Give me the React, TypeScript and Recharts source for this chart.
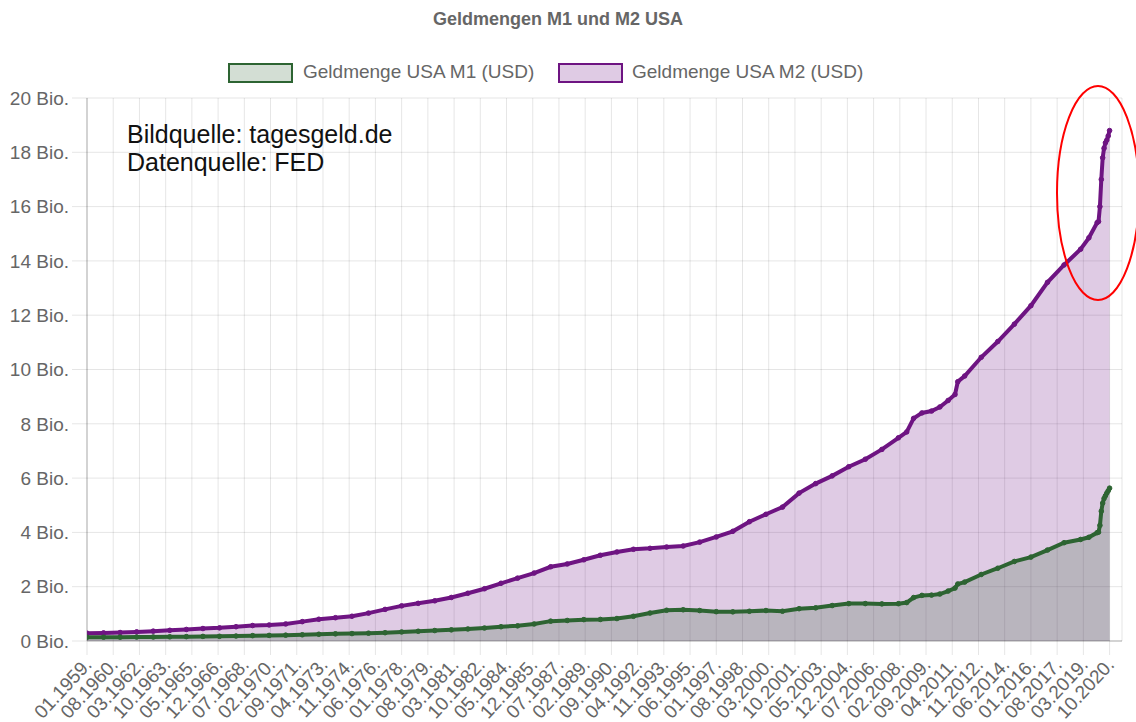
import React from 'react';
import { ComposedChart, Area, XAxis, YAxis, CartesianGrid, Legend } from 'recharts';

// Monthly sample points (YYYY-MM)
const DATES = [
  '1959-01', '1960-01', '1961-01', '1962-01', '1963-01', '1964-01', '1965-01', '1966-01', '1967-01', '1968-01',
  '1969-01', '1970-01', '1971-01', '1972-01', '1973-01', '1974-01', '1975-01', '1976-01', '1977-01', '1978-01',
  '1979-01', '1980-01', '1981-01', '1982-01', '1983-01', '1984-01', '1985-01', '1986-01', '1987-01', '1988-01',
  '1989-01', '1990-01', '1991-01', '1992-01', '1993-01', '1994-01', '1995-01', '1996-01', '1997-01', '1998-01',
  '1999-01', '2000-01', '2001-01', '2002-01', '2003-01', '2004-01', '2005-01', '2006-01', '2007-01', '2008-01',
  '2008-07', '2008-12', '2009-06', '2010-01', '2010-07', '2011-01', '2011-06', '2011-08', '2012-01', '2013-01',
  '2014-01', '2015-01', '2016-01', '2017-01', '2018-01', '2019-01', '2019-07', '2020-01', '2020-02', '2020-03',
  '2020-04', '2020-05', '2020-06', '2020-07', '2020-08', '2020-09', '2020-10',
];

// Geldmenge USA M1 (Bio. USD)
const M1_VALUES = [
  0.139, 0.140, 0.141, 0.145, 0.148, 0.154, 0.161, 0.169, 0.172, 0.183,
  0.197, 0.206, 0.215, 0.229, 0.249, 0.264, 0.274, 0.288, 0.306, 0.333,
  0.359, 0.385, 0.410, 0.443, 0.478, 0.525, 0.558, 0.627, 0.731, 0.756,
  0.787, 0.794, 0.827, 0.910, 1.030, 1.132, 1.150, 1.122, 1.080, 1.073,
  1.095, 1.122, 1.096, 1.190, 1.221, 1.306, 1.377, 1.378, 1.366, 1.375,
  1.415, 1.600, 1.680, 1.690, 1.730, 1.840, 1.950, 2.100, 2.170, 2.450,
  2.680, 2.930, 3.090, 3.350, 3.620, 3.740, 3.820, 3.990, 4.010, 4.260,
  4.780, 5.080, 5.250, 5.350, 5.450, 5.530, 5.630,
];

// Geldmenge USA M2 (Bio. USD)
const M2_VALUES = [
  0.287, 0.298, 0.312, 0.336, 0.363, 0.393, 0.425, 0.459, 0.484, 0.526,
  0.569, 0.590, 0.628, 0.713, 0.801, 0.858, 0.912, 1.027, 1.164, 1.294,
  1.387, 1.480, 1.603, 1.759, 1.925, 2.126, 2.314, 2.503, 2.734, 2.838,
  2.991, 3.158, 3.279, 3.378, 3.413, 3.462, 3.499, 3.642, 3.832, 4.040,
  4.394, 4.667, 4.932, 5.447, 5.796, 6.082, 6.420, 6.696, 7.056, 7.485,
  7.700, 8.200, 8.400, 8.470, 8.620, 8.860, 9.080, 9.550, 9.760, 10.450,
  11.030, 11.670, 12.350, 13.210, 13.850, 14.430, 14.850, 15.410, 15.450, 16.000,
  17.000, 17.800, 18.150, 18.350, 18.450, 18.600, 18.800,
];

const X_TICK_LABELS = [
  '01.1959.', '08.1960.', '03.1962.', '10.1963.', '05.1965.', '12.1966.', '07.1968.', '02.1970.',
  '09.1971.', '04.1973.', '11.1974.', '06.1976.', '01.1978.', '08.1979.', '03.1981.', '10.1982.',
  '05.1984.', '12.1985.', '07.1987.', '02.1989.', '09.1990.', '04.1992.', '11.1993.', '06.1995.',
  '01.1997.', '08.1998.', '03.2000.', '10.2001.', '05.2003.', '12.2004.', '07.2006.', '02.2008.',
  '09.2009.', '04.2011.', '11.2012.', '06.2014.', '01.2016.', '08.2017.', '03.2019.', '10.2020.',
];

const Y_TICKS = [0, 2, 4, 6, 8, 10, 12, 14, 16, 18, 20];

const TITLE = 'Geldmengen M1 und M2 USA';
const M1_NAME = 'Geldmenge USA M1 (USD)';
const M2_NAME = 'Geldmenge USA M2 (USD)';
const NOTE_LINES = ['Bildquelle: tagesgeld.de', 'Datenquelle: FED'];

const M1_COLOR = '#2d6432';
const M2_COLOR = '#6e1482';
const FONT = '"Liberation Sans", Arial, Helvetica, sans-serif';

const monthIndex = (d: string) => {
  const [y, m] = d.split('-').map(Number);
  return (y - 1959) * 12 + (m - 1);
};
const labelIndex = (l: string) => {
  const parts = l.split('.');
  return (Number(parts[1]) - 1959) * 12 + Number(parts[0]) - 1;
};

const data = DATES.map((d, i) => ({ m: monthIndex(d), m1: M1_VALUES[i], m2: M2_VALUES[i] }));
const xTicks = X_TICK_LABELS.map(labelIndex);
const labelMap = new Map<number, string>(xTicks.map((t, i) => [t, X_TICK_LABELS[i]]));

const XTick = (props: any) => {
  const { x, y, payload } = props;
  const ax = x + 1;
  const ay = y + 6;
  return (
    <text
      x={ax}
      y={ay}
      dy="0.35em"
      textAnchor="end"
      transform={`rotate(-47, ${ax}, ${ay})`}
      fill="#666"
      fontSize={19}
      fontFamily={FONT}
    >
      {labelMap.get(payload.value) ?? ''}
    </text>
  );
};

const renderLegend = () => (
  <div style={{ position: 'relative', width: 1136, height: 90, fontFamily: FONT }}>
    <div
      style={{
        position: 'absolute', left: 228, top: 63, width: 65, height: 20, boxSizing: 'border-box',
        background: 'rgba(45,100,50,0.21)', border: `2px solid ${M1_COLOR}`,
      }}
    />
    <span style={{ position: 'absolute', left: 303, top: 61, fontSize: 19, lineHeight: '22px', color: '#666', whiteSpace: 'nowrap' }}>
      {M1_NAME}
    </span>
    <div
      style={{
        position: 'absolute', left: 558, top: 63, width: 65, height: 20, boxSizing: 'border-box',
        background: 'rgba(110,20,130,0.22)', border: `2px solid ${M2_COLOR}`,
      }}
    />
    <span style={{ position: 'absolute', left: 632, top: 61, fontSize: 19, lineHeight: '22px', color: '#666', whiteSpace: 'nowrap' }}>
      {M2_NAME}
    </span>
  </div>
);

export default function App() {
  return (
    <div style={{ position: 'absolute', left: 0, top: 0, width: 1136, height: 722, background: '#fff', overflow: 'hidden', fontFamily: FONT }}>
      <div
        style={{
          position: 'absolute', left: 0, width: 1116, top: 8, textAlign: 'center',
          fontSize: 18, fontWeight: 'bold', color: '#666', lineHeight: '22px',
        }}
      >
        {TITLE}
      </div>
      <ComposedChart
        width={1136}
        height={722}
        data={data}
        margin={{ top: 8, right: 14, bottom: 0, left: 0 }}
      >
        <Legend verticalAlign="top" align="left" content={renderLegend} wrapperStyle={{ top: 0, left: 0, width: 1136 }} />
        <CartesianGrid stroke="#000" strokeOpacity={0.1} />
        <XAxis
          dataKey="m"
          type="number"
          domain={[0, 750]}
          ticks={xTicks}
          interval={0}
          height={81}
          tickSize={14}
          tickMargin={0}
          tickLine={{ stroke: '#000', strokeOpacity: 0.1 }}
          axisLine={{ stroke: '#000', strokeOpacity: 0.25 }}
          tick={<XTick />}
          allowDataOverflow
        />
        <YAxis
          type="number"
          domain={[0, 20]}
          ticks={Y_TICKS}
          interval={0}
          width={87}
          tickSize={15}
          tickMargin={3}
          tickLine={{ stroke: '#000', strokeOpacity: 0.1 }}
          axisLine={{ stroke: '#000', strokeOpacity: 0.25 }}
          tickFormatter={(v: number) => `${v} Bio.`}
          tick={{ fill: '#666', fontSize: 19, fontFamily: FONT }}
        />
        <Area
          type="linear"
          dataKey="m2"
          name={M2_NAME}
          stroke={M2_COLOR}
          strokeWidth={4}
          fill={M2_COLOR}
          fillOpacity={0.22}
          dot={{ r: 2.3, fill: M2_COLOR, stroke: M2_COLOR, strokeWidth: 1, fillOpacity: 1 }}
          isAnimationActive={false}
        />
        <Area
          type="linear"
          dataKey="m1"
          name={M1_NAME}
          stroke={M1_COLOR}
          strokeWidth={4}
          fill={M1_COLOR}
          fillOpacity={0.21}
          dot={{ r: 2.3, fill: M1_COLOR, stroke: M1_COLOR, strokeWidth: 1, fillOpacity: 1 }}
          isAnimationActive={false}
        />
      </ComposedChart>
      <div style={{ position: 'absolute', left: 127, top: 120, fontSize: 25, lineHeight: '28px', color: '#111', whiteSpace: 'nowrap' }}>
        <div>{NOTE_LINES[0]}</div>
        <div>{NOTE_LINES[1]}</div>
      </div>
      <svg style={{ position: 'absolute', left: 0, top: 0, pointerEvents: 'none' }} width={1136} height={722}>
        <ellipse cx={1098} cy={193} rx={41} ry={107} fill="none" stroke="#ff0000" strokeWidth={2} />
      </svg>
    </div>
  );
}
